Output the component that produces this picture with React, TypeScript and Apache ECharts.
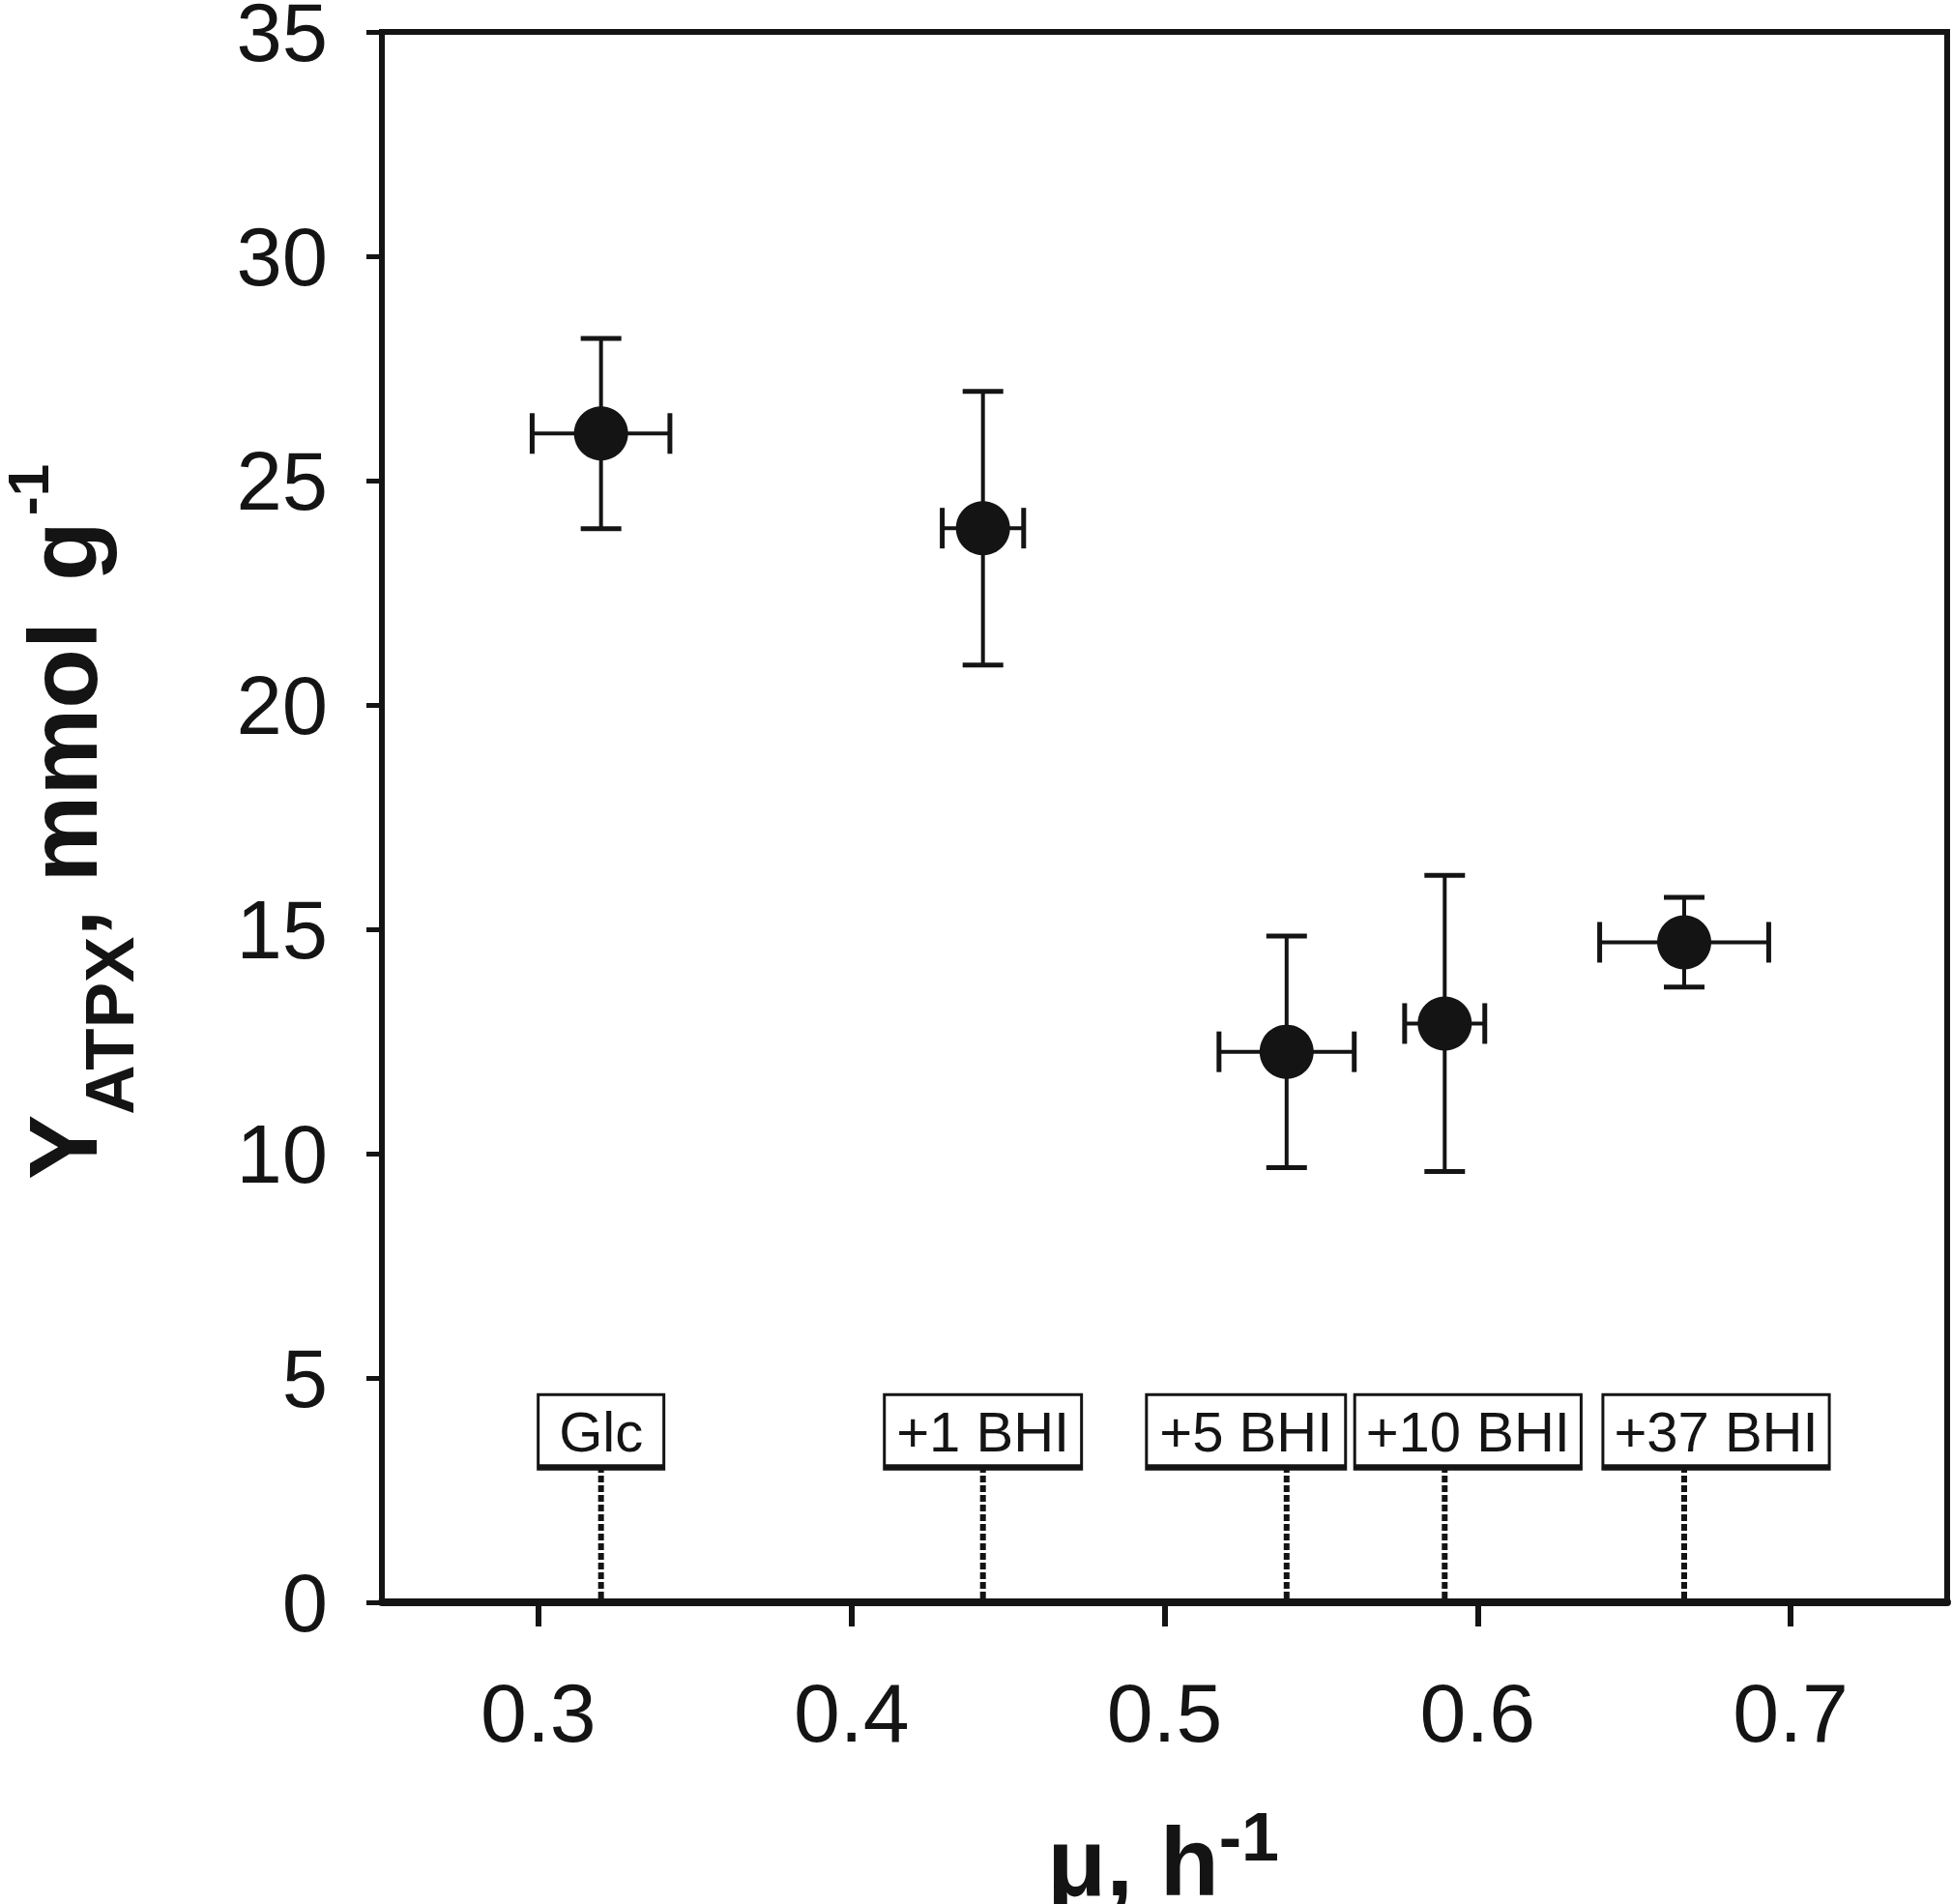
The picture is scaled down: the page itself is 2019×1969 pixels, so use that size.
import React, { useEffect, useRef } from 'react';
import * as echarts from 'echarts';

// ---- data ----
const conditions = ['Glc', '+1 BHI', '+5 BHI', '+10 BHI', '+37 BHI'];
const muValues = [0.32, 0.442, 0.539, 0.5895, 0.666];
const muErrors = [0.022, 0.013, 0.0216, 0.0128, 0.027];
const yieldValues = [26.05, 23.94, 12.27, 12.9, 14.71];
const yieldErrors = [2.12, 3.05, 2.58, 3.3, 1.0];
const xTickValues = [0.3, 0.4, 0.5, 0.6, 0.7];
const labelBaseY = 3.0; // height (data units) where the condition boxes sit

// ---- style / layout constants ----
const INK = '#141414';
const FAMILY = 'Liberation Sans';
const FONT = '"Liberation Sans", Arial, Helvetica, sans-serif';
const labelShiftPx = [0, 0, -42, 24, 33];
const labelPadX = [20, 11, 12, 10, 10];
const LABEL_SIZE = 58;
const CAP = 21;

function measure(text: string, size: number, bold: boolean): number {
  const c = document.createElement('canvas');
  const ctx = c.getContext('2d');
  if (!ctx) return text.length * size * 0.6;
  ctx.font = `${bold ? 'bold ' : ''}${size}px "${FAMILY}", Arial, sans-serif`;
  return ctx.measureText(text).width;
}

export default function App() {
  const ref = useRef<HTMLDivElement>(null);

  useEffect(() => {
    document.body.style.margin = '0';
    document.body.style.overflow = 'hidden';
    const chart = echarts.init(ref.current as HTMLDivElement, undefined, { renderer: 'svg' });

    const errData = muValues.map((x, i) => [x, yieldValues[i], muErrors[i], yieldErrors[i]]);
    const pointData = muValues.map((x, i) => [x, yieldValues[i]]);
    const labelData = muValues.map((x) => [x, labelBaseY]);
    const labelWidths = conditions.map((t, i) => measure(t, LABEL_SIZE, false) + 2 * labelPadX[i]);

    // y-axis title pieces: Y_ATPX, mmol g^-1 (laid out along the rotated baseline)
    const mainSize = 101;
    const subSize = 71;
    const supSize = 60;
    const wY = measure('Y', mainSize, true);
    const wSub = measure('ATPX', subSize, true);
    const wMid = measure(', mmol ', mainSize, true);
    const wG = measure('g', mainSize, true);
    const xMid = wY + wSub;
    const xG = xMid + wMid + 14;
    const xSup = xG + wG + 6;
    const bold = (size: number) => ({
      fontSize: size,
      fontWeight: 'bold',
      fontFamily: FONT,
      fill: INK,
      align: 'left',
      verticalAlign: 'middle',
    });

    const option: any = {
      animation: false,
      backgroundColor: '#ffffff',
      grid: {
        left: 395,
        right: 5,
        top: 33,
        bottom: 312,
        show: true,
        borderColor: INK,
        borderWidth: 6,
        backgroundColor: 'transparent',
        containLabel: false,
        outerBoundsMode: 'none',
      },
      xAxis: {
        type: 'value',
        min: 0.25,
        max: 0.75,
        axisLine: { show: true, onZero: false, lineStyle: { color: INK, width: 8 } },
        axisTick: {
          show: true,
          customValues: xTickValues,
          length: 25,
          lineStyle: { color: INK, width: 6 },
        },
        axisLabel: {
          customValues: xTickValues,
          margin: 71,
          fontSize: 86,
          fontFamily: FONT,
          color: INK,
          formatter: (v: number) => v.toFixed(1),
        },
        splitLine: { show: false },
      },
      yAxis: {
        type: 'value',
        min: 0,
        max: 35,
        interval: 5,
        axisLine: { show: true, lineStyle: { color: INK, width: 6 } },
        axisTick: { show: true, length: 16, lineStyle: { color: INK, width: 5 } },
        axisLabel: { margin: 56, fontSize: 85, fontFamily: FONT, color: INK },
        splitLine: { show: false },
      },
      graphic: [
        {
          type: 'group',
          x: 65,
          y: 1220,
          rotation: Math.PI / 2,
          children: [
            { type: 'text', x: 0, y: 0, style: { text: 'Y', ...bold(mainSize) } },
            { type: 'text', x: wY, y: 48, style: { text: 'ATPX', ...bold(subSize) } },
            { type: 'text', x: xMid, y: 0, style: { text: ', mmol', ...bold(mainSize) } },
            { type: 'text', x: xG, y: 0, style: { text: 'g', ...bold(mainSize) } },
            { type: 'text', x: xSup, y: -36, style: { text: '-1', ...bold(supSize) } },
          ],
        },
        {
          type: 'text',
          x: 1203,
          y: 1925,
          style: {
            text: '{m|\u03bc, h}{sup|-1}',
            align: 'center',
            verticalAlign: 'middle',
            fill: INK,
            rich: {
              m: { fontSize: 100, fontWeight: 'bold', fontFamily: FONT, fill: INK, lineHeight: 120 },
              sup: {
                fontSize: 70,
                fontWeight: 'bold',
                fontFamily: FONT,
                fill: INK,
                lineHeight: 95,
                verticalAlign: 'top',
              },
            },
          },
        },
      ],
      series: [
        {
          name: 'error bars',
          type: 'custom',
          data: errData,
          encode: { x: 0, y: 1 },
          z: 2,
          renderItem: (_params: any, api: any) => {
            const x = api.value(0);
            const y = api.value(1);
            const ex = api.value(2);
            const ey = api.value(3);
            const top = api.coord([x, y + ey]);
            const bot = api.coord([x, y - ey]);
            const lft = api.coord([x - ex, y]);
            const rgt = api.coord([x + ex, y]);
            const st = { stroke: INK, lineWidth: 4 };
            const capSt = { stroke: INK, lineWidth: 5 };
            return {
              type: 'group',
              children: [
                { type: 'line', shape: { x1: top[0], y1: top[1], x2: bot[0], y2: bot[1] }, style: st },
                { type: 'line', shape: { x1: top[0] - CAP, y1: top[1], x2: top[0] + CAP, y2: top[1] }, style: capSt },
                { type: 'line', shape: { x1: bot[0] - CAP, y1: bot[1], x2: bot[0] + CAP, y2: bot[1] }, style: capSt },
                { type: 'line', shape: { x1: lft[0], y1: lft[1], x2: rgt[0], y2: rgt[1] }, style: st },
                { type: 'line', shape: { x1: lft[0], y1: lft[1] - CAP, x2: lft[0], y2: lft[1] + CAP }, style: capSt },
                { type: 'line', shape: { x1: rgt[0], y1: rgt[1] - CAP, x2: rgt[0], y2: rgt[1] + CAP }, style: capSt },
              ],
            };
          },
        },
        {
          name: 'Y ATPX',
          type: 'scatter',
          data: pointData,
          symbol: 'circle',
          symbolSize: 56,
          itemStyle: { color: INK, opacity: 1 },
          z: 3,
        },
        {
          name: 'conditions',
          type: 'custom',
          data: labelData,
          encode: { x: 0, y: 1 },
          z: 4,
          renderItem: (params: any, api: any) => {
            const i = params.dataIndex;
            const x = api.value(0);
            const base = api.coord([x, 0]);
            const top = api.coord([x, api.value(1)]);
            const cx = top[0] + labelShiftPx[i];
            const half = labelWidths[i] / 2;
            return {
              type: 'group',
              children: [
                {
                  type: 'line',
                  shape: { x1: base[0], y1: base[1] - 4, x2: top[0], y2: top[1] },
                  style: { stroke: INK, lineWidth: 6, lineDash: [7, 3] },
                },
                {
                  type: 'text',
                  x: cx,
                  y: top[1],
                  style: {
                    text: conditions[i],
                    fontSize: LABEL_SIZE,
                    fontFamily: FONT,
                    fill: INK,
                    align: 'center',
                    verticalAlign: 'bottom',
                    backgroundColor: '#ffffff',
                    borderColor: INK,
                    borderWidth: 3,
                    padding: [8, labelPadX[i], 8, labelPadX[i]],
                    lineHeight: LABEL_SIZE,
                  },
                },
                {
                  type: 'line',
                  shape: { x1: cx - half - 1.5, y1: top[1] - 1, x2: cx + half + 1.5, y2: top[1] - 1 },
                  style: { stroke: INK, lineWidth: 5 },
                },
              ],
            };
          },
        },
      ],
    };

    chart.setOption(option);
    return () => {
      chart.dispose();
    };
  }, []);

  return <div ref={ref} style={{ width: 2019, height: 1969 }} />;
}
